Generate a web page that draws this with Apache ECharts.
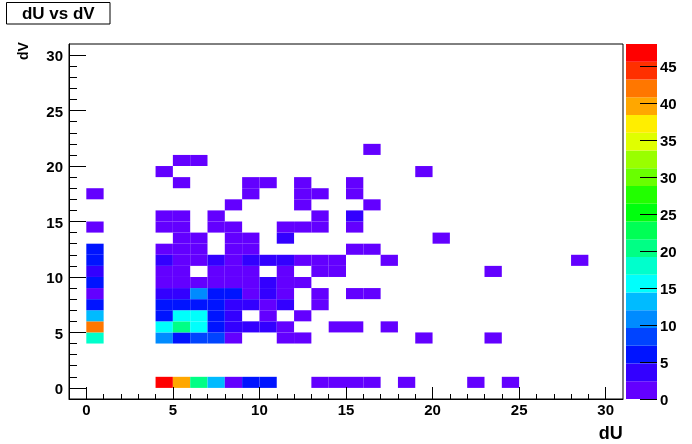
<!DOCTYPE html>
<html>
<head>
<meta charset="utf-8">
<script src="https://cdn.jsdelivr.net/npm/echarts@6/dist/echarts.min.js"></script>
<style>
html,body{margin:0;padding:0;background:#fff;}
#chart{width:692px;height:444px;}
</style>
</head>
<body>
<div id="chart"></div>
<script>
// ---- tick labels ----
const xTicks = [0, 5, 10, 15, 20, 25, 30];
const yTicks = [0, 5, 10, 15, 20, 25, 30];
const minorTicks = [0,1,2,3,4,5,6,7,8,9,10,11,12,13,14,15,16,17,18,19,20,21,22,23,24,25,26,27,28,29,30];
const zTicks = [0, 5, 10, 15, 20, 25, 30, 35, 40, 45];
const zMax = 48;

// ---- colour palette (20 contour levels, violet -> red) ----
const palette = ['#6300ff','#3300ff','#0014ff','#0044ff','#008bff','#00bbff','#00fffc','#00ffcc','#00ff85','#00ff55',
                 '#00ff0e','#22ff00','#69ff00','#99ff00','#e0ff00','#ffee00','#ffa700','#ff7700','#ff3000','#ff0000'];

// ---- histogram cells: dU bin, dV bin, entries ----
const cellDU = [
  4,5,6,7,8,9,10,13,14,15,16,18,22,24,            // dV 0
  0,4,5,6,7,8,11,12,19,23,                         // dV 4
  0,4,5,6,7,8,9,10,11,14,15,17,                    // dV 5
  0,4,5,6,7,8,10,12,                               // dV 6
  0,4,5,6,7,8,9,10,11,13,                          // dV 7
  0,4,5,6,7,8,9,10,11,13,15,16,                    // dV 8
  0,4,5,6,7,8,9,10,11,12,                          // dV 9
  0,4,5,7,8,9,11,13,14,23,                         // dV 10
  0,4,5,6,7,8,9,10,11,12,13,14,17,28,              // dV 11
  0,4,5,6,8,9,15,16,                               // dV 12
  5,6,8,9,11,20,                                   // dV 13
  0,4,5,7,8,11,12,13,15,                           // dV 14
  4,5,7,13,15,                                     // dV 15
  8,12,16,                                         // dV 16
  0,9,12,13,15,                                    // dV 17
  5,9,10,12,15,                                    // dV 18
  4,19,                                            // dV 19
  5,6,                                             // dV 20
  16                                               // dV 21
];
const cellDV = [
  0,0,0,0,0,0,0,0,0,0,0,0,0,0,
  4,4,4,4,4,4,4,4,4,4,
  5,5,5,5,5,5,5,5,5,5,5,5,
  6,6,6,6,6,6,6,6,
  7,7,7,7,7,7,7,7,7,7,
  8,8,8,8,8,8,8,8,8,8,8,8,
  9,9,9,9,9,9,9,9,9,9,
  10,10,10,10,10,10,10,10,10,10,
  11,11,11,11,11,11,11,11,11,11,11,11,11,11,
  12,12,12,12,12,12,12,12,
  13,13,13,13,13,13,
  14,14,14,14,14,14,14,14,14,
  15,15,15,15,15,
  16,16,16,
  17,17,17,17,17,
  18,18,18,18,18,
  19,19,
  20,20,
  21
];
const cellCount = [
  48,39,20,13,2,6,6,1,1,1,1,1,1,1,
  18,10,6,8,8,2,1,1,1,1,
  42,15,20,15,6,3,3,3,1,1,1,1,
  13,6,15,15,6,3,1,1,
  6,6,6,6,6,3,3,1,3,1,
  1,3,3,10,6,6,1,3,1,1,1,1,
  5,1,1,1,1,1,1,3,1,1,
  3,1,1,1,1,1,1,1,1,1,
  6,3,1,1,3,1,3,3,3,1,1,1,1,1,
  6,1,1,1,1,1,1,1,
  1,1,1,1,3,1,
  1,1,1,1,1,1,1,1,1,
  1,1,1,1,3,
  1,1,1,
  1,1,1,1,1,
  1,1,1,1,1,
  1,1,
  1,1,
  1
];

const FONT = '"Liberation Sans", Arial, Helvetica, sans-serif';
const nLev = palette.length;
const step = zMax / nLev;
const pieces = palette.map((c, k) => (k === nLev - 1
  ? { gte: k * step, lte: zMax + 1, color: c }
  : { gte: k * step, lt: (k + 1) * step, color: c }));

const cells = cellDU.map((u, i) => [u, cellDV[i], cellCount[i]]);
const bands = palette.map((c, k) => [k]);

const labelStyle = { color: '#000', fontSize: 15, fontWeight: 'bold', fontFamily: FONT };
const black = { color: '#000', width: 1 };

const chart = echarts.init(document.getElementById('chart'), null, { renderer: 'canvas' });
chart.setOption({
  backgroundColor: '#fff',
  animation: false,
  grid: [
    { left: 69, top: 44, width: 554, height: 355, show: true, borderColor: '#000', borderWidth: 1, backgroundColor: '#fff' },
    { left: 626, top: 44, width: 31, height: 355, show: false }
  ],
  xAxis: [
    { gridIndex: 0, type: 'value', min: -1, max: 31, position: 'bottom', z: 10,
      axisLine: { show: true, onZero: false, lineStyle: black },
      axisTick: { show: true, inside: true, length: 12, customValues: xTicks, lineStyle: black },
      axisLabel: { show: true, customValues: xTicks, margin: 4, ...labelStyle },
      splitLine: { show: false } },
    { gridIndex: 0, type: 'value', min: -1, max: 31, position: 'bottom', z: 10,
      axisLine: { show: false, onZero: false },
      axisTick: { show: true, inside: true, length: 5, customValues: minorTicks, lineStyle: black },
      axisLabel: { show: false },
      splitLine: { show: false } },
    { gridIndex: 1, type: 'value', min: 0, max: 1, show: false }
  ],
  yAxis: [
    { gridIndex: 0, type: 'value', min: -1, max: 31, position: 'left', z: 10,
      axisLine: { show: true, onZero: false, lineStyle: black },
      axisTick: { show: true, inside: true, length: 17, customValues: yTicks, lineStyle: black },
      axisLabel: { show: true, customValues: yTicks, margin: 6, verticalAlign: 'top', lineHeight: 4, ...labelStyle },
      splitLine: { show: false } },
    { gridIndex: 0, type: 'value', min: -1, max: 31, position: 'left', z: 10,
      axisLine: { show: false, onZero: false },
      axisTick: { show: true, inside: true, length: 8, customValues: minorTicks, lineStyle: black },
      axisLabel: { show: false },
      splitLine: { show: false } },
    { gridIndex: 1, type: 'value', min: 0, max: zMax, position: 'right', z: 10,
      axisLine: { show: false, onZero: false },
      axisTick: { show: true, inside: true, length: 17, customValues: zTicks, lineStyle: black },
      axisLabel: { show: true, customValues: zTicks, margin: 3, verticalAlign: 'top', lineHeight: 3, ...labelStyle },
      splitLine: { show: false } }
  ],
  visualMap: {
    type: 'piecewise', show: false, dimension: 2, seriesIndex: 0, pieces: pieces
  },
  series: [
    {
      type: 'custom', name: 'dU vs dV', xAxisIndex: 0, yAxisIndex: 0,
      data: cells, encode: { x: 0, y: 1 },
      renderItem: function (params, api) {
        const x = api.value(0), y = api.value(1);
        const p0 = api.coord([x, y]);
        const p1 = api.coord([x + 1, y + 1]);
        return {
          type: 'rect',
          shape: { x: p0[0], y: p1[1], width: p1[0] - p0[0], height: p0[1] - p1[1] },
          style: { fill: api.visual('color'), stroke: null }
        };
      }
    },
    {
      type: 'custom', name: 'palette', xAxisIndex: 2, yAxisIndex: 2,
      data: bands,
      renderItem: function (params, api) {
        const k = api.value(0);
        const p0 = api.coord([0, k * step]);
        const p1 = api.coord([1, (k + 1) * step]);
        return {
          type: 'rect',
          shape: { x: p0[0], y: p1[1], width: p1[0] - p0[0], height: p0[1] - p1[1] },
          style: { fill: palette[k], stroke: null }
        };
      }
    }
  ],
  graphic: [
    { type: 'rect', shape: { x: 6.5, y: 2.5, width: 103.5, height: 21.5 },
      style: { fill: '#fff', stroke: '#000', lineWidth: 1 }, z: 20 },
    { type: 'text', x: 58.3, y: 14, z: 21,
      style: { text: 'dU vs dV', fill: '#000', font: 'bold 17px ' + FONT, align: 'center', verticalAlign: 'middle' } },
    { type: 'text', x: 622.7, y: 434, z: 21,
      style: { text: 'dU', fill: '#000', font: 'bold 18px ' + FONT, align: 'right', verticalAlign: 'middle' } },
    { type: 'text', x: 24, y: 51, rotation: Math.PI / 2, z: 21,
      style: { text: 'dV', fill: '#000', font: 'bold 14px ' + FONT, align: 'center', verticalAlign: 'middle' } }
  ]
});
</script>
</body>
</html>
